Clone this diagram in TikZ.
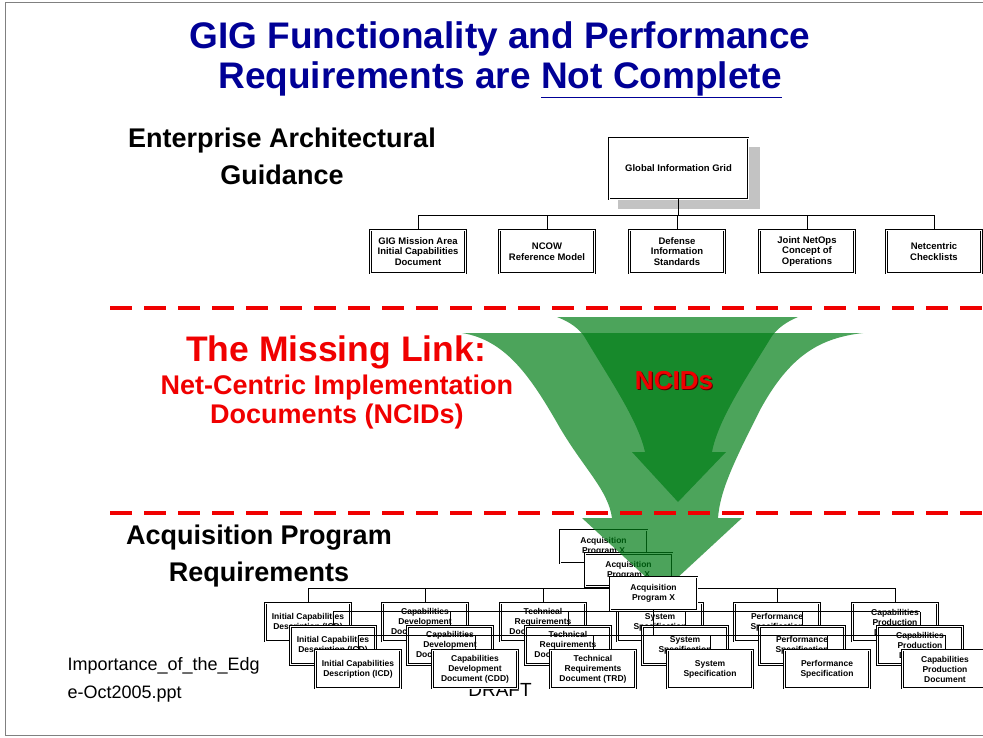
\documentclass[tikz,border=0pt]{standalone}
\usepackage{fontspec}
\setmainfont{Liberation Sans}
\usetikzlibrary{calc}
\definecolor{titleblue}{RGB}{0,0,150}
\definecolor{myred}{RGB}{240,0,0}
\definecolor{darkred}{RGB}{90,0,0}
\definecolor{funnelgreen}{RGB}{0,125,22}
\definecolor{shadowgray}{RGB}{195,195,195}

\tikzset{
    docbox/.style={draw, fill=white, line width=0.75pt, double=white, double distance=0.75pt,
        align=center, inner sep=1pt, font=\fontsize{8.5}{10}\selectfont\bfseries,
        minimum width=85pt, minimum height=38pt},
    guidebox/.style={docbox, font=\fontsize{9.5}{10.5}\selectfont\bfseries,
        minimum width=95pt, minimum height=43pt},
    heading/.style={anchor=center, align=center, font=\fontsize{27}{37}\selectfont\bfseries},
    funnel/.style={fill=funnelgreen, fill opacity=0.7, draw=none},
    redline/.style={myred, line width=4pt, dash pattern=on 22pt off 12pt},
}

% one copy of the acquisition program chart
\newcommand{\acqchart}[1]{%
    \begin{scope}[shift={(25*#1,23.5*#1)}]
        \node[docbox, minimum width=87pt, minimum height=33pt] (acq#1) at (603.5,546.5) {Acquisition\\Program X};
        \coordinate (bus#1) at (0,588);
        \node[docbox] (icd#1) at (308,622) {Initial Capabilities\\Description (ICD)};
        \node[docbox] (cdd#1) at (425,622) {Capabilities\\Development\\Document (CDD)};
        \node[docbox] (trd#1) at (543,622) {Technical\\Requirements\\Document (TRD)};
        \node[docbox] (sysspec#1) at (660,622) {System\\Specification};
        \node[docbox] (perfspec#1) at (777,622) {Performance\\Specification};
        \node[docbox] (cpd#1) at (895,622) {Capabilities\\Production\\Document};
        \draw (acq#1.south) -- (acq#1.south |- bus#1);
        \draw (icd#1.north |- bus#1) -- (cpd#1.north |- bus#1);
        \foreach \d in {icd,cdd,trd,sysspec,perfspec,cpd}
            \draw (\d#1.north) -- (\d#1.north |- bus#1);
    \end{scope}}

\begin{document}
\begin{tikzpicture}[x=1pt, y=-1pt]
    \useasboundingbox (0,0) rectangle (983,738);
    \draw[gray, line width=1pt] (5,3) rectangle (995,735);
    % Title
    \node[anchor=center, align=center, text=titleblue, font=\fontsize{37}{40}\selectfont\bfseries] (title) at (500,60)
        {GIG Functionality and Performance\\Requirements are \underline{Not Complete}};
    % Enterprise guidance
    \node[heading] (eag) at (282,156) {Enterprise Architectural\\Guidance};
    \node[fill=shadowgray, minimum width=142pt, minimum height=62pt] (gigshadow) at (689,178.5) {};
    \node[docbox, minimum width=139pt, minimum height=61pt, font=\fontsize{9.5}{10.5}\selectfont\bfseries] (gig) at (678.5,168.5) {Global Information Grid};
    \coordinate (topbus) at (0,215);
    \node[guidebox] (mission) at (418,251.5) {GIG Mission Area\\Initial Capabilities\\Document};
    \node[guidebox] (ncow) at (547,251.5) {NCOW\\Reference Model};
    \node[guidebox] (defstd) at (677,251.5) {Defense\\Information\\Standards};
    \node[guidebox] (netops) at (807,251.5) {Joint NetOps\\Concept of\\Operations};
    \node[guidebox] (checklists) at (934,251.5) {Netcentric\\Checklists};
    \draw (gig.south) -- (gig.south |- topbus);
    \draw (mission.north |- topbus) -- (checklists.north |- topbus);
    \foreach \b in {mission,ncow,defstd,netops,checklists}
        \draw (\b.north) -- (\b.north |- topbus);
    % Acquisition requirements
    \node[heading] (apr) at (259,556) {Acquisition Program\\Requirements};
    \node[anchor=center, font=\fontsize{19}{19}\selectfont] (draft) at (500,690) {DRAFT};
    \node[anchor=west, align=left, font=\fontsize{18}{28}\selectfont] (file) at (64,680)
        {Importance\_of\_the\_Edg\\e-Oct2005.ppt};
    \acqchart{0}
    \acqchart{1}
    % NCID funnels
    \fill[funnel] (462,333) .. controls (505,340) and (530,375) .. (560,428)
        .. controls (585,470) and (608,490) .. (612,518) -- (582,518) -- (662,592)
        -- (742,518) -- (718,518) .. controls (720,490) and (735,460) .. (760,410)
        .. controls (790,355) and (820,338) .. (863,333) -- cycle;
    \fill[funnel] (557,317) .. controls (570,322) and (578,328) .. (584,336)
        .. controls (610,380) and (638,420) .. (645,452) -- (632,452) -- (678,502)
        -- (726,452) -- (712,452) .. controls (718,420) and (745,380) .. (772,336)
        .. controls (778,328) and (786,322) .. (798,317) -- cycle;
    \node[anchor=center, text=darkred, font=\fontsize{26}{26}\selectfont\bfseries] (ncidsshade) at (675,382) {NCIDs};
    \node[anchor=center, text=myred, font=\fontsize{26}{26}\selectfont\bfseries] (ncids) at (674,381) {NCIDs};
    \draw[redline] (110,308) -- (983,308);
    \draw[redline] (110,513) -- (983,513);
    % Missing link
    \node[anchor=center, text=myred, font=\fontsize{35.5}{35.5}\selectfont\bfseries] (link) at (336,352) {The Missing Link:};
    \node[anchor=center, align=center, text=myred, font=\fontsize{27}{29}\selectfont\bfseries] (ncid) at (337,402.5)
        {Net-Centric Implementation\\Documents (NCIDs)};
    \acqchart{2}
\end{tikzpicture}
\end{document}
